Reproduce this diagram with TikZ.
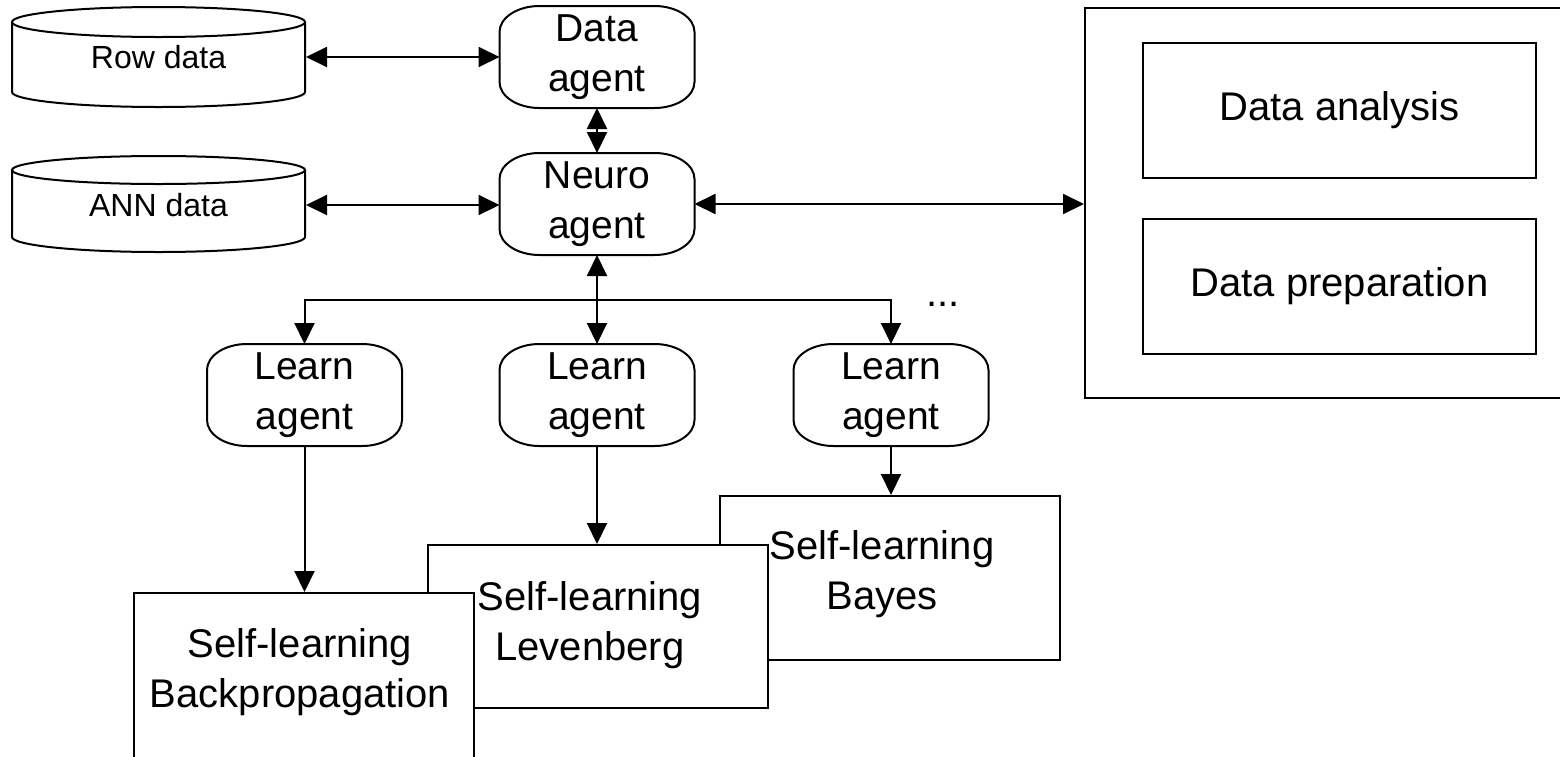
\documentclass[tikz,border=0pt]{standalone}
\usepackage{fontspec}
\setmainfont{Liberation Sans}
\usetikzlibrary{arrows.meta}
\begin{document}
\begin{tikzpicture}[x=0.5pt,y=-0.5pt, line width=1pt,
  tip/.style={-{Triangle[length=10.5pt,width=10pt]}},
  both/.style={{Triangle[length=10.5pt,width=10pt]}-{Triangle[length=10.5pt,width=10pt]}},
  agent/.style={minimum width=96.5pt, minimum height=50pt, align=center, font=\fontsize{19.5}{25}\selectfont, inner sep=0pt},
  box/.style={draw, fill=white, minimum width=170pt, inner sep=0pt},
  inbox/.style={draw, minimum width=196.5pt, minimum height=67.5pt, inner sep=0pt, font=\fontsize{20}{25}\selectfont},
  txt/.style={align=center, font=\fontsize{20}{25}\selectfont, inner sep=0pt},
  db/.style={minimum width=146.5pt, minimum height=50pt, inner sep=0pt, font=\fontsize{16}{19}\selectfont}]
\useasboundingbox (0,0) rectangle (1560,756);
\clip (0,0) rectangle (1560,756);

% databases
\node[db] (row) at (158.5,57) {Row data};
\draw (158.5,22) ellipse[x radius=146.5, y radius=15];
\draw (12,22) -- (12,92) arc[start angle=180, end angle=0, x radius=146.5, y radius=15] -- (305,22);

\node[db] (ann) at (158.5,205) {ANN data};
\draw (158.5,170) ellipse[x radius=146.5, y radius=14];
\draw (12,170) -- (12,237) arc[start angle=180, end angle=0, x radius=146.5, y radius=15] -- (305,170);

% agents
\node[agent] (data) at (597,57) {Data\\agent};
\node[agent] (neuro) at (597,204) {Neuro\\agent};
\node[agent] (learn1) at (304.5,395) {Learn\\agent};
\node[agent] (learn2) at (597,395) {Learn\\agent};
\node[agent] (learn3) at (891,395) {Learn\\agent};
\foreach \n in {data,neuro,learn1,learn2,learn3}{
  \draw ([xshift=20pt]\n.north west) -- ([xshift=-20pt]\n.north east)
    arc[start angle=90, end angle=0, x radius=20pt, y radius=13pt]
    -- ([yshift=13pt]\n.south east)
    arc[start angle=0, end angle=-90, x radius=20pt, y radius=13pt]
    -- ([xshift=20pt]\n.south west)
    arc[start angle=-90, end angle=-180, x radius=20pt, y radius=13pt]
    -- ([yshift=-13pt]\n.north west)
    arc[start angle=180, end angle=90, x radius=20pt, y radius=13pt] -- cycle;
}

% right box
\node[draw, minimum width=240pt, minimum height=195pt, inner sep=0pt] (outer) at (1325,203) {};
\node[inbox] (anal) at (1339.5,110.5) {Data analysis};
\node[inbox] (prep) at (1339.5,286.5) {Data preparation};

% self-learning boxes
\node[box, minimum height=82pt] (bayes) at (890,578) {};
\node[txt] (bayestxt) at (882,574) {Self-learning\\Bayes};
\draw[tip] (learn3.south) -- (learn3.south |- bayes.north);
\node[box, minimum height=81.5pt] (lev) at (598,626.5) {};
\node[txt] (levtxt) at (590,625) {Self-learning\\Levenberg};
\node[box, minimum height=90pt] (bp) at (304,683) {};
\node[txt] (bptxt) at (300,672) {Self-learning\\Backpropagation};

% connectors
\draw[both] (row.east) -- (data.west);
\draw[both] (ann.east) -- (ann.east -| neuro.west);
\draw[both] (data.south) -- (neuro.north);
\draw[both] (neuro.east) -- (neuro.east -| outer.west);
\draw[both] (neuro.south) -- (learn2.north);
\coordinate (bus) at (597,300);
\draw[tip] (bus) -| (learn1.north);
\draw[tip] (bus) -| (learn3.north);
\draw[tip] (learn1.south) -- (learn1.south |- bp.north);
\draw[tip] (learn2.south) -- (learn2.south |- lev.north);
\node[txt, anchor=base] (dots) at (943,306) {...};
\end{tikzpicture}
\end{document}
